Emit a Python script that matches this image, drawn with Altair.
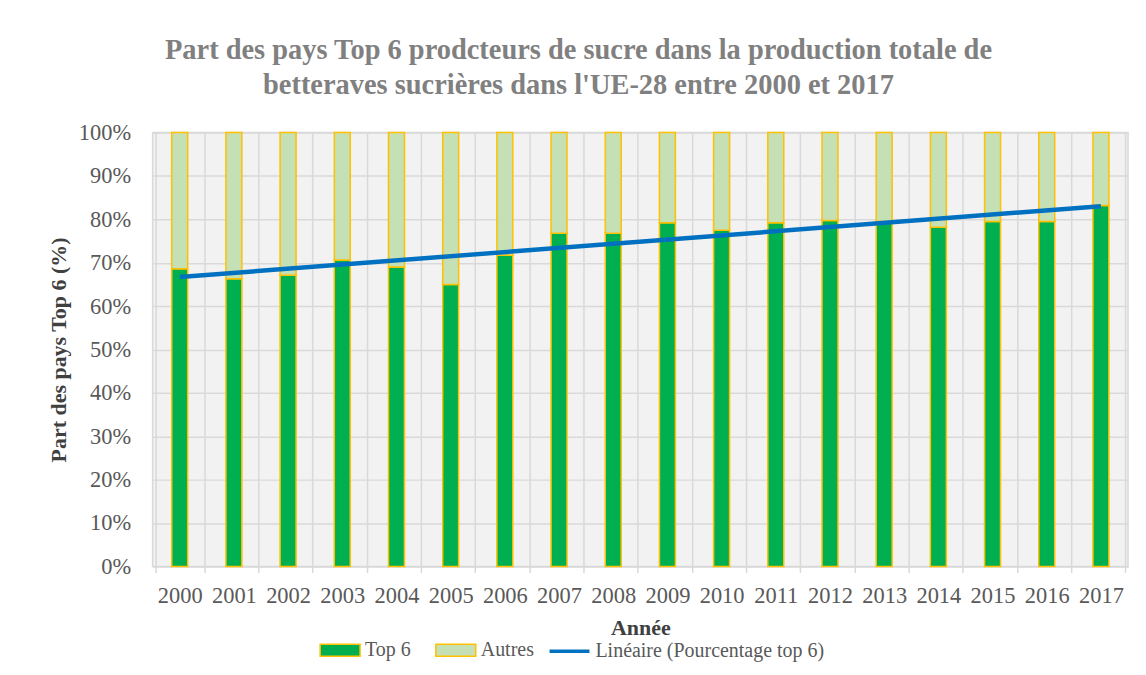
import altair as alt
import pandas as pd

years = [2000, 2001, 2002, 2003, 2004, 2005, 2006, 2007, 2008,
         2009, 2010, 2011, 2012, 2013, 2014, 2015, 2016, 2017]
top6 = [68.6, 66.3, 67.1, 70.6, 69.0, 65.0, 71.7, 76.8, 76.8,
        79.2, 77.5, 79.2, 79.7, 79.5, 78.2, 79.5, 79.5, 83.2]
autres = [31.4, 33.7, 32.9, 29.4, 31.0, 35.0, 28.3, 23.2, 23.2,
          20.8, 22.5, 20.8, 20.3, 20.5, 21.8, 20.5, 20.5, 16.8]
categories = ["Top 6", "Autres"]
cat_colors = ["#00B050", "#C5E0B4"]
trend_label = "Linéaire (Pourcentage top 6)"
y_ticks = [0, 10, 20, 30, 40, 50, 60, 70, 80, 90, 100]
title_lines = [
    "Part des pays Top 6 prodcteurs de sucre dans la production totale de",
    "betteraves sucrières dans l'UE-28 entre 2000 et 2017",
]

rows = []
for i, yr in enumerate(years):
    rows.append({"year": yr, "cat": categories[0], "ord": 0, "value": top6[i]})
    rows.append({"year": yr, "cat": categories[1], "ord": 1, "value": autres[i]})
bars_df = pd.DataFrame(rows)
line_df = pd.DataFrame({"year": years, "top6": top6, "serie": [trend_label] * len(years)})

FONT = "Liberation Serif"
Y_TITLE = "Part des pays Top 6 (%)"
X_TITLE = "Année"

x_axis = alt.Axis(labelAngle=0, grid=True, tickBand="extent", ticks=True, tickSize=6,
                  tickColor="#d9d9d9", tickWidth=1.5, labelPadding=12, titlePadding=11)
y_axis = alt.Axis(values=y_ticks, labelExpr="datum.value + '%'", ticks=False,
                  labelPadding=22, titlePadding=8, grid=True)
y_scale = alt.Scale(domain=[0, 100], nice=False)

bars = alt.Chart(bars_df).mark_bar(size=16, stroke="#FFC000", strokeWidth=1.5).encode(
    x=alt.X("year:O", title=X_TITLE, axis=x_axis),
    y=alt.Y("value:Q", title=Y_TITLE, stack="zero", scale=y_scale, axis=y_axis),
    color=alt.Color("cat:N", scale=alt.Scale(domain=categories, range=cat_colors),
                    legend=alt.Legend(orient="none", legendX=167, legendY=498,
                                      direction="horizontal", title=None,
                                      symbolType="M-1,-0.3H1V0.3H-1Z", symbolSize=1600,
                                      symbolStrokeColor="#FFC000", symbolStrokeWidth=1.5,
                                      symbolOpacity=1, labelOffset=4, columnPadding=22,
                                      labelLimit=0)),
    order=alt.Order("ord:Q", sort="ascending"),
)

line = alt.Chart(line_df).transform_regression(
    on="year", regression="top6", method="linear", groupby=["serie"]
).mark_line(strokeWidth=4.5).encode(
    x=alt.X("year:O", title=X_TITLE, axis=x_axis),
    y=alt.Y("top6:Q", title=Y_TITLE, scale=y_scale, axis=y_axis),
    stroke=alt.Stroke("serie:N", scale=alt.Scale(domain=[trend_label], range=["#0070C0"]),
                      legend=alt.Legend(orient="none", legendX=396, legendY=498,
                                        title=None, symbolType="stroke", symbolSize=1600,
                                        symbolStrokeWidth=3.5, labelOffset=4,
                                        labelLimit=0)),
)

chart = alt.layer(bars, line).properties(
    width=978,
    height=435,
    autosize=alt.AutoSizeParams(type="none"),
    padding={"left": 145, "top": 124, "right": 10, "bottom": 104},
    title=alt.TitleParams(text=title_lines, font=FONT, fontSize=28.5, fontWeight="bold",
                          color="#808080", anchor="middle", frame="group", dx=-62,
                          offset=22, lineHeight=35),
).resolve_scale(
    color="independent"
).configure_view(
    fill="#f2f2f2", stroke="#d9d9d9", strokeWidth=1.5
).configure_axis(
    labelFont=FONT, labelFontSize=22.5, labelColor="#595959",
    titleFont=FONT, titleFontSize=22, titleFontWeight="bold", titleColor="#404040",
    gridColor="#d9d9d9", gridWidth=1.5, domain=False,
).configure_legend(
    labelFont=FONT, labelFontSize=20, labelColor="#595959",
)

chart.save("out.html", embed_options={"renderer": "svg", "actions": False})
